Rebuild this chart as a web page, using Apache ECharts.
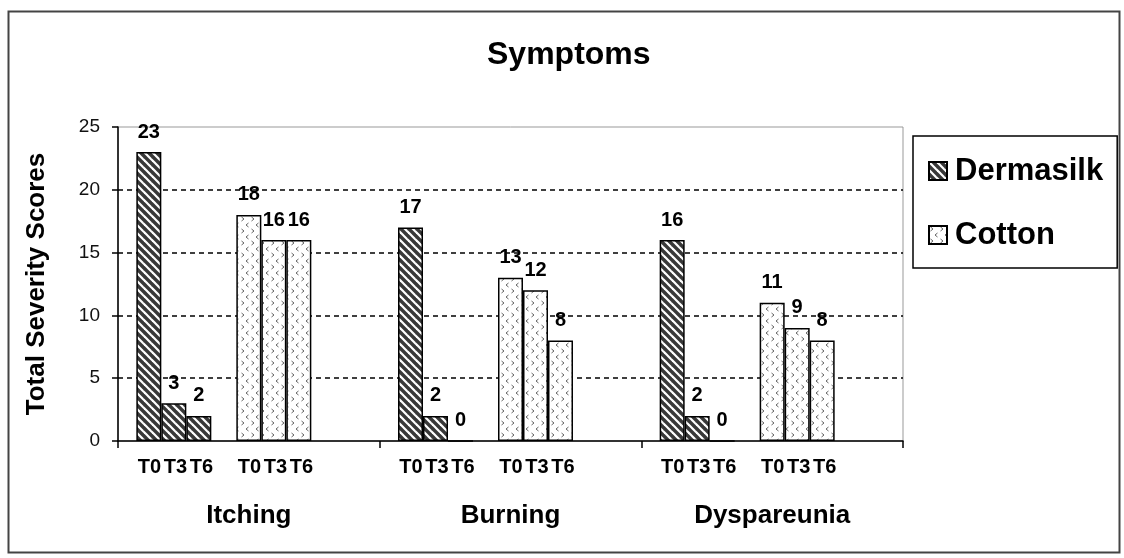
<!DOCTYPE html>
<html>
<head>
<meta charset="utf-8">
<script src="https://cdn.jsdelivr.net/npm/echarts@6/dist/echarts.min.js"></script>
<style>
  html, body { margin: 0; padding: 0; background: #fff; }
  #main { width: 1124px; height: 558px; }
</style>
</head>
<body>
<div id="main"></div>
<script>
// data
var symptoms = ['Itching', 'Burning', 'Dyspareunia'];
var timePoints = ['T0', 'T3', 'T6'];
var dermasilkT0 = [23, 17, 16];
var dermasilkT3 = [3, 2, 2];
var dermasilkT6 = [2, 0, 0];
var cottonT0 = [18, 13, 11];
var cottonT3 = [16, 12, 9];
var cottonT6 = [16, 8, 8];

var FONT = "'Liberation Sans', Arial, sans-serif";

// hatch for Dermasilk: dark with white "\" stripes
function stripeTile() {
    var c = document.createElement('canvas');
    c.width = 8; c.height = 8;
    var g = c.getContext('2d');
    g.fillStyle = '#383838';
    g.fillRect(0, 0, 8, 8);
    g.strokeStyle = '#ffffff';
    g.lineWidth = 2.2;
    for (var k = -1; k <= 1; k++) {
        g.beginPath();
        g.moveTo(-2 + k * 8, -2);
        g.lineTo(10 + k * 8, 10);
        g.stroke();
    }
    return c;
}
// small grey chevrons for Cotton
function chevronTile() {
    var c = document.createElement('canvas');
    c.width = 10; c.height = 12;
    var g = c.getContext('2d');
    g.fillStyle = '#ffffff';
    g.fillRect(0, 0, 10, 12);
    g.strokeStyle = '#666';
    g.lineWidth = 1;
    g.beginPath();
    g.moveTo(1.5, 1); g.lineTo(4, 3); g.lineTo(1.5, 5);
    g.moveTo(8.5, 7); g.lineTo(6, 9); g.lineTo(8.5, 11);
    g.stroke();
    return c;
}

var dermaFill = { image: stripeTile(), repeat: 'repeat' };
var cottonFill = { image: chevronTile(), repeat: 'repeat' };

function dataSeries(name, values, fill) {
    return {
        name: name,
        type: 'bar',
        barWidth: 25,
        barGap: '0%',
        data: values,
        itemStyle: { color: fill, borderColor: '#000', borderWidth: 1.5 },
        label: {
            show: true,
            position: 'top',
            distance: 10,
            color: '#000',
            fontFamily: FONT,
            fontSize: 20,
            fontWeight: 'bold'
        }
    };
}
function spacer() {
    return { name: '', type: 'bar', barWidth: 25, barGap: '0%', data: [], silent: true };
}

var tRow = timePoints.map(function (t) { return '{t|' + t + '}'; }).join('');

var myChart = echarts.init(document.getElementById('main'));
var option = {
    backgroundColor: '#fff',
    animation: false,
    title: {
        text: 'Symptoms',
        left: 487,
        top: 39,
        padding: 0,
        textStyle: { fontFamily: FONT, fontSize: 32, fontWeight: 'bold', color: '#000' }
    },
    legend: {
        data: ['Dermasilk', 'Cotton'],
        orient: 'vertical',
        left: 913,
        top: 136,
        padding: [19, 14, 17, 15],
        icon: 'rect',
        itemWidth: 18,
        itemHeight: 18,
        itemGap: 32,
        borderColor: '#000',
        borderWidth: 1.5,
        textStyle: { fontFamily: FONT, fontSize: 31, fontWeight: 'bold', color: '#000', lineHeight: 32, padding: [0, 0, 0, 3] }
    },
    graphic: [{
        type: 'rect',
        shape: { x: 8.5, y: 11.5, width: 1111, height: 541 },
        style: { fill: null, stroke: '#444', lineWidth: 2 },
        silent: true
    }],
    grid: {
        left: 118,
        right: 221,
        top: 127,
        bottom: 117,
        show: true,
        borderColor: '#999',
        borderWidth: 1,
        backgroundColor: '#fff'
    },
    xAxis: {
        type: 'category',
        data: symptoms,
        axisLine: { lineStyle: { color: '#000', width: 1.5 } },
        axisTick: { show: true, length: 7, lineStyle: { color: '#000', width: 1.5 } },
        axisLabel: {
            margin: 12,
            interval: 0,
            formatter: function (v) {
                return tRow + '{g| }' + tRow + '{e| }\n{n|' + v + '}';
            },
            rich: {
                t: { width: 26, align: 'center', fontFamily: FONT, fontSize: 20, fontWeight: 'bold', color: '#000', lineHeight: 28 },
                g: { width: 22, lineHeight: 28 },
                e: { width: 47, lineHeight: 28 },
                n: { align: 'center', fontFamily: FONT, fontSize: 26, fontWeight: 'bold', color: '#000', lineHeight: 70 }
            }
        }
    },
    yAxis: {
        type: 'value',
        min: 0,
        max: 25,
        interval: 5,
        name: 'Total Severity Scores',
        nameLocation: 'middle',
        nameRotate: 90,
        nameGap: 68,
        nameTextStyle: { fontFamily: FONT, fontSize: 26, fontWeight: 'bold', color: '#000' },
        axisLine: { show: true, lineStyle: { color: '#000', width: 1.5 } },
        axisTick: { show: true, length: 6, lineStyle: { color: '#000', width: 1.5 } },
        axisLabel: { margin: 18, fontFamily: FONT, fontSize: 19, color: '#111' },
        splitLine: {
            show: true,
            showMinLine: false,
            showMaxLine: false,
            lineStyle: { color: '#000', width: 1.5, type: [5, 4] }
        }
    },
    series: [
        dataSeries('Dermasilk', dermasilkT0, dermaFill),
        dataSeries('Dermasilk', dermasilkT3, dermaFill),
        dataSeries('Dermasilk', dermasilkT6, dermaFill),
        spacer(),
        dataSeries('Cotton', cottonT0, cottonFill),
        dataSeries('Cotton', cottonT3, cottonFill),
        dataSeries('Cotton', cottonT6, cottonFill),
        spacer(),
        spacer()
    ]
};

myChart.setOption(option);
window.addEventListener('resize', function () {
    myChart.resize();
});
</script>
</body>
</html>
